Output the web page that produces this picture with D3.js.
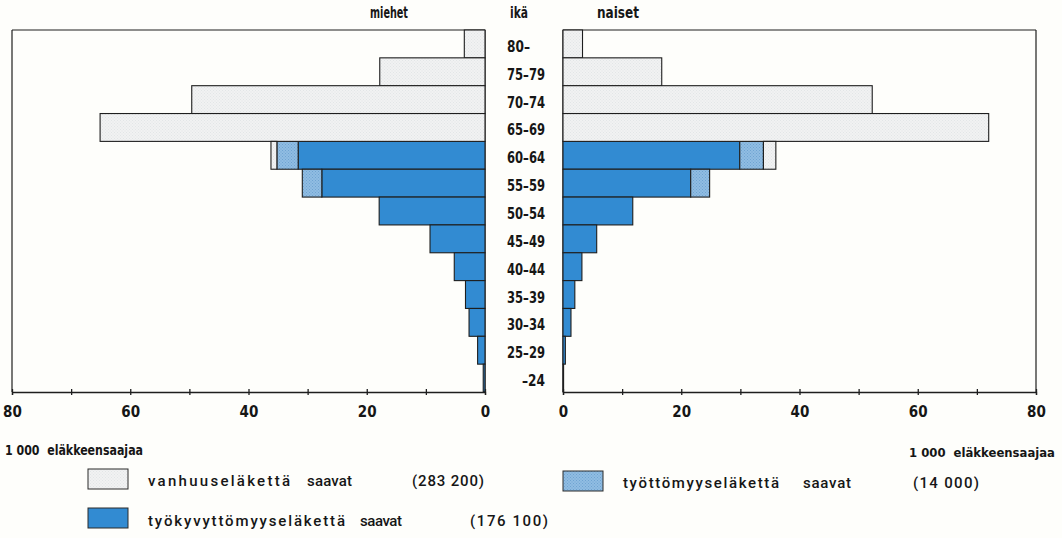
<!DOCTYPE html>
<html>
<head>
<meta charset="utf-8">
<script src="https://cdn.jsdelivr.net/npm/d3@7"></script>
<style>
  html, body { margin: 0; padding: 0; background: #fefefb; }
  svg { display: block; }
  text { font-family: "DejaVu Sans Condensed", "Liberation Sans", sans-serif; fill: #161616; }
  .legend text { font-family: Roboto, "DejaVu Sans Condensed", sans-serif; font-weight: 500; }
</style>
</head>
<body>
<svg id="chart" width="1062" height="538"></svg>
<script>
// ---- data (thousands of pension recipients) ----
const ages = ["80-", "75-79", "70-74", "65-69", "60-64", "55-59", "50-54", "45-49", "40-44", "35-39", "30-34", "25-29", "-24"];
const menDisability     = [0, 0, 0, 0, 31.6, 27.6, 17.9, 9.3, 5.2, 3.3, 2.7, 1.25, 0.3];
const menUnemployment   = [0, 0, 0, 0, 3.6, 3.3, 0, 0, 0, 0, 0, 0, 0];
const menOldAge         = [3.5, 17.8, 49.6, 65.1, 1.0, 0, 0, 0, 0, 0, 0, 0, 0];
const womenDisability   = [0, 0, 0, 0, 29.9, 21.6, 11.8, 5.7, 3.2, 2.0, 1.35, 0.4, 0.1];
const womenUnemployment = [0, 0, 0, 0, 4.0, 3.2, 0, 0, 0, 0, 0, 0, 0];
const womenOldAge       = [3.3, 16.7, 52.3, 72.0, 2.1, 0, 0, 0, 0, 0, 0, 0, 0];
const tickValues = [0, 10, 20, 30, 40, 50, 60, 70, 80];
const headers = ["miehet", "ikä", "naiset"];
const unitLabel = "1 000  eläkkeensaajaa";
const legendNames = ["vanhuuseläkettä", "työkyvyttömyyseläkettä", "työttömyyseläkettä"];
const legendVerb = "saavat";
const legendTotals = ["(283 200)", "(176 100)", "(14 000)"];
const seriesKeys = ["disability", "unemployment", "oldAge"];

const svg = d3.select("#chart");
const defs = svg.append("defs");

// textures
function dotPattern(id, bg, dot) {
  const p = defs.append("pattern").attr("id", id).attr("patternUnits", "userSpaceOnUse")
    .attr("width", 3).attr("height", 3);
  p.append("rect").attr("width", 3).attr("height", 3).attr("fill", bg);
  p.append("rect").attr("x", 0).attr("y", 0).attr("width", 1).attr("height", 1).attr("fill", dot);
  p.append("rect").attr("x", 1.5).attr("y", 1.5).attr("width", 1).attr("height", 1).attr("fill", dot);
}
dotPattern("patOld", "#f1f2f2", "#e2e5e7");
dotPattern("patUnemp", "#90bde2", "#6fa3d2");
const fills = { disability: "#328bd2", unemployment: "url(#patUnemp)", oldAge: "url(#patOld)" };

// scales
const y = d3.scaleBand().domain(ages).range([30, 392]).padding(0);
const xMen = d3.scaleLinear().domain([0, 80]).range([485, 12]);
const xWomen = d3.scaleLinear().domain([0, 80]).range([563, 1036]);

// stacked data
function stackSide(dis, une, old) {
  const rows = ages.map((a, i) => ({ age: a, disability: dis[i], unemployment: une[i], oldAge: old[i] }));
  return d3.stack().keys(seriesKeys)(rows);
}
const menStack = stackSide(menDisability, menUnemployment, menOldAge);
const womenStack = stackSide(womenDisability, womenUnemployment, womenOldAge);

const stroke = "#1e1e1e";

// frame
const frame = svg.append("g").attr("fill", "none").attr("stroke", stroke).attr("stroke-width", 1.2);
frame.append("line").attr("x1", xMen(80)).attr("x2", xMen(0)).attr("y1", y.range()[0]).attr("y2", y.range()[0]);
frame.append("line").attr("x1", xWomen(0)).attr("x2", xWomen(80)).attr("y1", y.range()[0]).attr("y2", y.range()[0]);
frame.append("line").attr("x1", xMen(80)).attr("x2", xMen(80)).attr("y1", y.range()[0]).attr("y2", y.range()[1]);
frame.append("line").attr("x1", xWomen(80)).attr("x2", xWomen(80)).attr("y1", y.range()[0]).attr("y2", y.range()[1]);

// bars
function drawSide(stack, x, cls) {
  const g = svg.append("g").attr("class", cls);
  stack.forEach(layer => {
    g.selectAll(null).data(layer.filter(d => d[1] - d[0] > 0)).enter().append("rect")
      .attr("x", d => Math.min(x(d[0]), x(d[1])))
      .attr("width", d => Math.abs(x(d[1]) - x(d[0])))
      .attr("y", d => y(d.data.age))
      .attr("height", y.bandwidth())
      .attr("fill", fills[layer.key])
      .attr("stroke", stroke).attr("stroke-width", 1.1);
  });
}
drawSide(menStack, xMen, "men");
drawSide(womenStack, xWomen, "women");

// zero lines
frame.append("line").attr("x1", xMen(0)).attr("x2", xMen(0)).attr("y1", y.range()[0]).attr("y2", y.range()[1]);
frame.append("line").attr("x1", xWomen(0)).attr("x2", xWomen(0)).attr("y1", y.range()[0]).attr("y2", y.range()[1]);

// axes
function drawAxis(x) {
  const ax = d3.axisBottom(x).tickValues(tickValues).tickSize(3).tickPadding(8)
    .tickFormat(d => d % 20 === 0 ? d : "");
  const g = svg.append("g").attr("transform", `translate(0,${y.range()[1]})`).call(ax);
  g.select(".domain").attr("stroke", stroke).attr("stroke-width", 1.3);
  g.selectAll(".tick line").attr("y1", -3).attr("y2", 3).attr("stroke", stroke).attr("stroke-width", 1.3);
  g.selectAll(".tick text").attr("font-size", 15).attr("font-weight", "bold").attr("fill", "#161616")
    .attr("font-family", null).attr("dy", "0.9em");
}
drawAxis(xMen);
drawAxis(xWomen);

// age labels
const mid = (xMen(0) + xWomen(0)) / 2;
svg.append("g").selectAll("text").data(ages).enter().append("text")
  .attr("x", d => d.endsWith("-") ? mid - 17 : d.startsWith("-") ? mid + 21 : mid + 2)
  .attr("text-anchor", d => d.endsWith("-") ? "start" : d.startsWith("-") ? "end" : "middle")
  .attr("y", d => y(d) + y.bandwidth() / 2 + 3)
  .attr("dominant-baseline", "central")
  .attr("font-size", 15).attr("font-weight", "bold")
  .attr("textLength", d => d.length === 5 ? 38 : 23).attr("lengthAdjust", "spacingAndGlyphs")
  .text(d => d.replace("-", "\u2013"));

// headers
const headerX = [389, 519, 618];
const headerW = [38, 18, 42];
svg.append("g").selectAll("text").data(headers).enter().append("text")
  .attr("x", (d, i) => headerX[i] - headerW[i] / 2).attr("y", 18)
  .attr("textLength", (d, i) => headerW[i]).attr("lengthAdjust", "spacingAndGlyphs")
  .attr("font-size", 15).attr("font-weight", "bold").text(d => d);

// unit labels
svg.append("text").attr("x", 5).attr("y", 455).attr("font-size", 14).attr("font-weight", "bold")
  .attr("textLength", 138).attr("lengthAdjust", "spacingAndGlyphs")
  .style("white-space", "pre").text(unitLabel);
svg.append("text").attr("x", 1055).attr("y", 457).attr("text-anchor", "end")
  .attr("font-size", 13).attr("font-weight", "bold")
  .attr("textLength", 146).attr("lengthAdjust", "spacingAndGlyphs")
  .style("white-space", "pre").text(unitLabel);

// legend
const legendItems = [
  { key: "oldAge", box: [88, 469], name: [148, 142], verb: [307, 45], total: [412, 72], base: 486 },
  { key: "disability", box: [88, 508], name: [148, 197], verb: [360, 42], total: [470, 78], base: 526 },
  { key: "unemployment", box: [563, 471], name: [623, 156], verb: [803, 48], total: [913, 66], base: 488 }
];
const lg = svg.append("g").attr("class", "legend");
legendItems.forEach((it, i) => {
  lg.append("rect").attr("x", it.box[0]).attr("y", it.box[1]).attr("width", 40).attr("height", 20)
    .attr("fill", fills[it.key]).attr("stroke", "#2a2a2a").attr("stroke-width", 1);
  lg.append("text").attr("x", it.name[0]).attr("y", it.base).attr("font-size", 15)
    .attr("textLength", it.name[1]).attr("lengthAdjust", "spacing").text(legendNames[i]);
  lg.append("text").attr("x", it.verb[0]).attr("y", it.base).attr("font-size", 15)
    .attr("textLength", it.verb[1]).attr("lengthAdjust", "spacing").text(legendVerb);
  lg.append("text").attr("x", it.total[0]).attr("y", it.base).attr("font-size", 15)
    .attr("textLength", it.total[1]).attr("lengthAdjust", "spacing").text(legendTotals[i]);
});
</script>
</body>
</html>
